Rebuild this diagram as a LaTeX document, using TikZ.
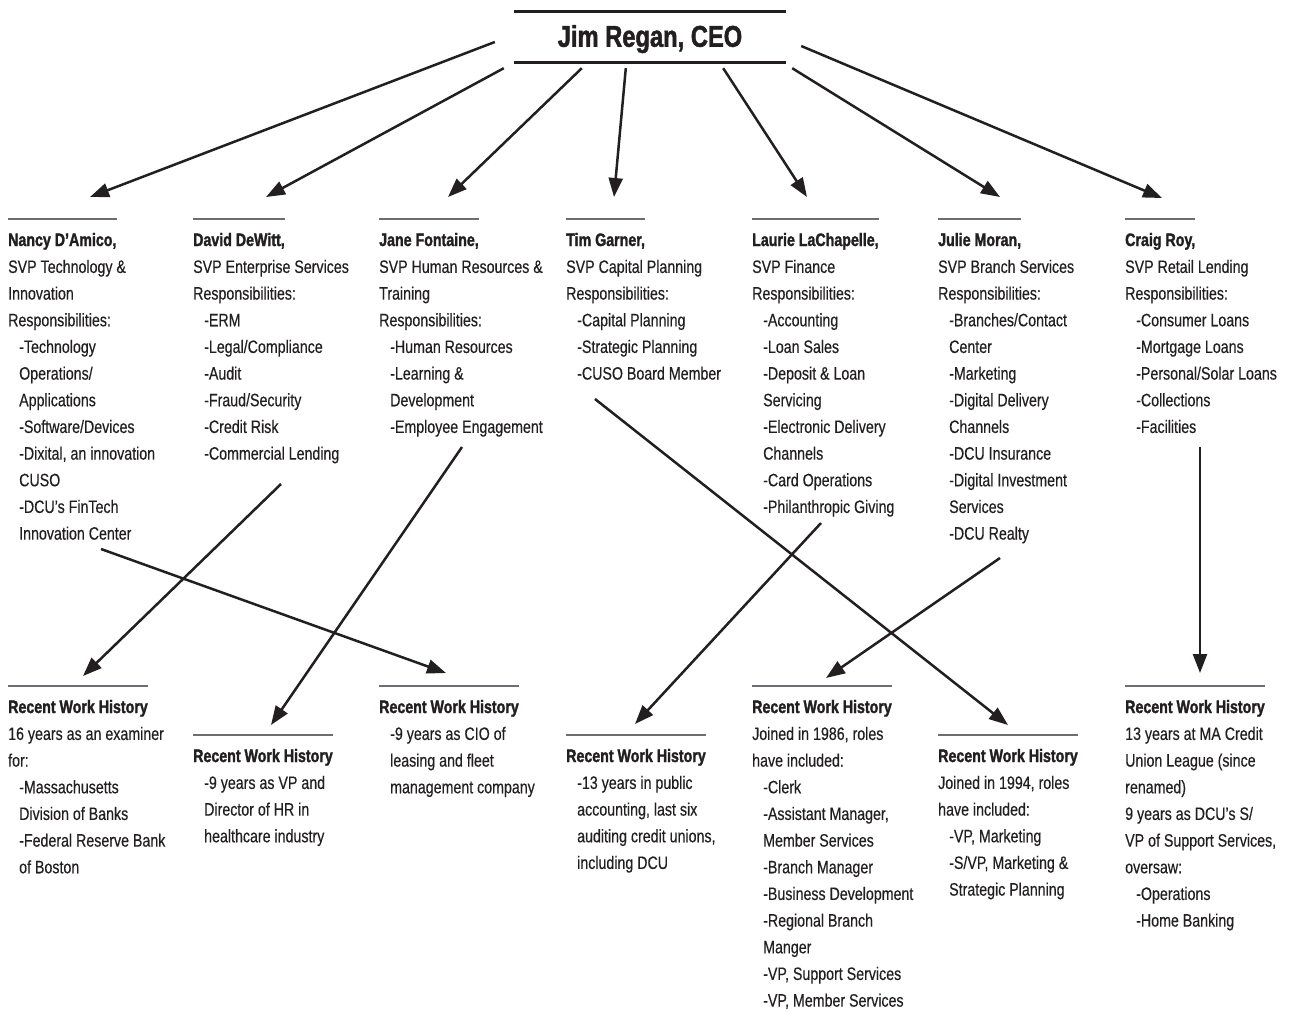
\documentclass[tikz,border=0pt]{standalone}
\usepackage{fontspec}
\setmainfont{Liberation Sans}[FakeStretch=0.79, FakeBold=0.4, BoldFeatures={FakeBold=1.6}]
\usetikzlibrary{positioning,arrows.meta}
\definecolor{ink}{HTML}{231F20}
\definecolor{rulegray}{HTML}{6D6E71}
\newcommand{\indt}{\hspace*{11pt}}

\begin{document}
\fontsize{18pt}{26.67pt}\selectfont
\begin{tikzpicture}[x=1pt, y=-1pt, text=ink,
    namebox/.style={font=\bfseries, inner sep=0pt, anchor=base west},
    textbox/.style={align=left, inner sep=0pt, anchor=north west},
    hrule/.style={draw=rulegray, line width=2pt},
    ceorule/.style={draw=ink, line width=3pt},
    link/.style={draw=ink, line width=2.5pt, -{Triangle[length=19pt,width=14pt]}}]
        \useasboundingbox (0,0) rectangle (1293,1010);

        % NODES
        % -----------------

        \node[inner sep=0pt, minimum width=272pt, minimum height=50pt, text height=21.5pt, text depth=2pt,
              font=\fontsize{30pt}{36pt}\selectfont\bfseries] (ceo) at (650,37) {Jim Regan, CEO};

        % SVPs
        \node[namebox] (nancy) at (8,246) {Nancy D’Amico,};
        \node[namebox] (david) at (193,246) {David DeWitt,};
        \node[namebox] (jane) at (379,246) {Jane Fontaine,};
        \node[namebox] (tim) at (566,246) {Tim Garner,};
        \node[namebox] (laurie) at (752,246) {Laurie LaChapelle,};
        \node[namebox] (julie) at (938,246) {Julie Moran,};
        \node[namebox] (craig) at (1125,246) {Craig Roy,};

        \node[below=8.05pt of nancy.base west, textbox] (nancy_body) {\strut SVP Technology \&\\Innovation\\Responsibilities:\\
            \indt-Technology\\\indt Operations/\\\indt Applications\\\indt-Software/Devices\\
            \indt-Dixital, an innovation\\\indt CUSO\\\indt-DCU’s FinTech\\\indt Innovation Center};
        \node[below=8.05pt of david.base west, textbox] (david_body) {\strut SVP Enterprise Services\\Responsibilities:\\
            \indt-ERM\\\indt-Legal/Compliance\\\indt-Audit\\\indt-Fraud/Security\\\indt-Credit Risk\\\indt-Commercial Lending};
        \node[below=8.05pt of jane.base west, textbox] (jane_body) {\strut SVP Human Resources \&\\Training\\Responsibilities:\\
            \indt-Human Resources\\\indt-Learning \&\\\indt Development\\\indt-Employee Engagement};
        \node[below=8.05pt of tim.base west, textbox] (tim_body) {\strut SVP Capital Planning\\Responsibilities:\\
            \indt-Capital Planning\\\indt-Strategic Planning\\\indt-CUSO Board Member};
        \node[below=8.05pt of laurie.base west, textbox] (laurie_body) {\strut SVP Finance\\Responsibilities:\\
            \indt-Accounting\\\indt-Loan Sales\\\indt-Deposit \& Loan\\\indt Servicing\\\indt-Electronic Delivery\\
            \indt Channels\\\indt-Card Operations\\\indt-Philanthropic Giving};
        \node[below=8.05pt of julie.base west, textbox] (julie_body) {\strut SVP Branch Services\\Responsibilities:\\
            \indt-Branches/Contact\\\indt Center\\\indt-Marketing\\\indt-Digital Delivery\\\indt Channels\\
            \indt-DCU Insurance\\\indt-Digital Investment\\\indt Services\\\indt-DCU Realty};
        \node[below=8.05pt of craig.base west, textbox] (craig_body) {\strut SVP Retail Lending\\Responsibilities:\\
            \indt-Consumer Loans\\\indt-Mortgage Loans\\\indt-Personal/Solar Loans\\\indt-Collections\\\indt-Facilities};

        % Work history
        \node[namebox] (nancy_hist) at (8,713) {Recent Work History};
        \node[namebox] (david_hist) at (193,762) {Recent Work History};
        \node[namebox] (jane_hist) at (379,713) {Recent Work History};
        \node[namebox] (tim_hist) at (566,762) {Recent Work History};
        \node[namebox] (laurie_hist) at (752,713) {Recent Work History};
        \node[namebox] (julie_hist) at (938,762) {Recent Work History};
        \node[namebox] (craig_hist) at (1125,713) {Recent Work History};

        \node[below=8.05pt of nancy_hist.base west, textbox] (nancy_hist_body) {\strut 16 years as an examiner\\for:\\
            \indt-Massachusetts\\\indt Division of Banks\\\indt-Federal Reserve Bank\\\indt of Boston};
        \node[below=8.05pt of david_hist.base west, textbox] (david_hist_body) {\strut\indt-9 years as VP and\\
            \indt Director of HR in\\\indt healthcare industry};
        \node[below=8.05pt of jane_hist.base west, textbox] (jane_hist_body) {\strut\indt-9 years as CIO of\\
            \indt leasing and fleet\\\indt management company};
        \node[below=8.05pt of tim_hist.base west, textbox] (tim_hist_body) {\strut\indt-13 years in public\\
            \indt accounting, last six\\\indt auditing credit unions,\\\indt including DCU};
        \node[below=8.05pt of laurie_hist.base west, textbox] (laurie_hist_body) {\strut Joined in 1986, roles\\have included:\\
            \indt-Clerk\\\indt-Assistant Manager,\\\indt Member Services\\\indt-Branch Manager\\\indt-Business Development\\
            \indt-Regional Branch\\\indt Manger\\\indt-VP, Support Services\\\indt-VP, Member Services};
        \node[below=8.05pt of julie_hist.base west, textbox] (julie_hist_body) {\strut Joined in 1994, roles\\have included:\\
            \indt-VP, Marketing\\\indt-S/VP, Marketing \&\\\indt Strategic Planning};
        \node[below=8.05pt of craig_hist.base west, textbox] (craig_hist_body) {\strut 13 years at MA Credit\\Union League (since\\
            renamed)\\9 years as DCU’s S/\\VP of Support Services,\\oversaw:\\\indt-Operations\\\indt-Home Banking};

        % RULES
        % -----------------
        \draw[ceorule] (ceo.north west) -- (ceo.north east);
        \draw[ceorule] (ceo.south west) -- (ceo.south east);
        \foreach \who in {nancy,david,jane,tim,laurie,julie,craig,
                          nancy_hist,david_hist,jane_hist,tim_hist,laurie_hist,julie_hist,craig_hist}
            \draw[hrule] ([yshift=27pt]\who.base west) -- ([yshift=27pt]\who.base east);

        % EDGES
        % -----------------
        \draw[link] ([shift={(-19,5)}]ceo.west) -- ([shift={(82,-49)}]nancy.base west);
        \draw[link] ([shift={(-10,6)}]ceo.south west) -- ([shift={(73,-49)}]david.base west);
        \draw[link] ([shift={(68,6)}]ceo.south west) -- ([shift={(69,-49)}]jane.base west);
        \draw[link] ([shift={(112,6)}]ceo.south west) -- ([shift={(48,-49)}]tim.base west);
        \draw[link] ([shift={(-63,6)}]ceo.south east) -- ([shift={(55,-49)}]laurie.base west);
        \draw[link] ([shift={(6,6)}]ceo.south east) -- ([shift={(62,-49)}]julie.base west);
        \draw[link] ([shift={(15,9)}]ceo.east) -- ([shift={(37,-48)}]craig.base west);

        \draw[link] ([shift={(88,238)}]david.base west) -- ([shift={(75,-37)}]nancy_hist.base west);
        \draw[link] ([shift={(93,303)}]nancy.base west) -- ([shift={(67,-40)}]jane_hist.base west);
        \draw[link] ([shift={(83,201)}]jane.base west) -- ([shift={(78,-37)}]david_hist.base west);
        \draw[link] ([shift={(29,153)}]tim.base west) -- ([shift={(70,-37)}]julie_hist.base west);
        \draw[link] ([shift={(69,277)}]laurie.base west) -- ([shift={(69,-38)}]tim_hist.base west);
        \draw[link] ([shift={(62,312)}]julie.base west) -- ([shift={(74,-35)}]laurie_hist.base west);
        \draw[link] ([shift={(75,201)}]craig.base west) -- ([shift={(75,-40)}]craig_hist.base west);

\end{tikzpicture}
\end{document}
